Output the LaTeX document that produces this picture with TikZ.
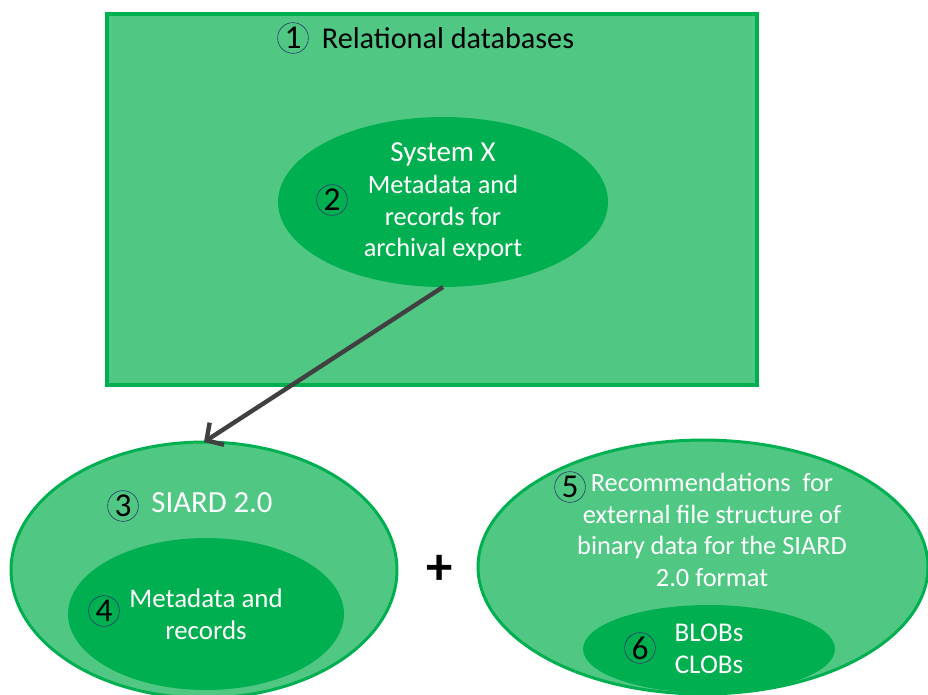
\documentclass[tikz,border=0pt]{standalone}
\usepackage{fontspec}
\setmainfont{Carlito}
\usetikzlibrary{shapes.geometric,arrows.meta}
\definecolor{lightgreen}{RGB}{80,200,132}
\definecolor{darkgreen}{RGB}{0,176,80}
\definecolor{arrowgray}{RGB}{64,64,64}
\definecolor{numblue}{RGB}{40,60,110}
\tikzset{
    outerbox/.style={draw=darkgreen,fill=lightgreen,line width=2.2pt},
    outerell/.style={ellipse,draw=darkgreen,fill=lightgreen,line width=1.7pt,inner sep=0pt,outer sep=0pt},
    innerell/.style={ellipse,fill=darkgreen,inner sep=0pt,outer sep=0pt,text=white,align=center},
    num/.style={circle,draw=numblue,line width=0.35pt,inner sep=0pt,minimum size=17.5pt,font=\fontsize{19}{19}\selectfont},
    lbl/.style={text=white,align=center}
}
\begin{document}
\begin{tikzpicture}[x=0.02cm,y=-0.02cm]
    \useasboundingbox (0,0) rectangle (928,694);
    \draw[outerbox] (107,14) rectangle (757,385);
    \node[font=\fontsize{17.2}{20}\selectfont] (reltitle) at (448,38) {Relational databases};
    \node[num] (n1) at (293,38) {1};
    \node[innerell,minimum width=6.6cm,minimum height=3.4cm,font=\fontsize{15}{18.1}\selectfont] (sysx) at (443,202) {\fontsize{16.5}{18.1}\selectfont System X\\Metadata and\\records for\\archival export};
    \node[num] (n2) at (332,200) {2};
    \node[outerell,minimum width=7.72cm,minimum height=5.12cm] (siard) at (204,570) {};
    \node[lbl,font=\fontsize{17.5}{20}\selectfont] (siardlbl) at (212,503) {SIARD 2.0};
    \node[num] (n3) at (123,506) {3};
    \node[innerell,minimum width=5.52cm,minimum height=3.04cm,font=\fontsize{15.3}{18.1}\selectfont] (records) at (206,614) {Metadata and\\records};
    \node[num] (n4) at (104,611) {4};
    \node[font=\fontsize{30}{30}\selectfont\bfseries] (plus) at (440,570) {+};
    \node[outerell,minimum width=9.0cm,minimum height=5.08cm] (recs) at (703,567) {};
    \node[lbl,font=\fontsize{15}{18.1}\selectfont] (recslbl) at (712,530) {Recommendations\ \ for\\external file structure of\\binary data for the SIARD\\2.0 format};
    \node[num] (n5) at (570,487) {5};
    \node[innerell,minimum width=5.04cm,minimum height=1.76cm,font=\fontsize{15.4}{18.1}\selectfont] (lobs) at (709,649) {BLOBs\\CLOBs};
    \node[num] (n6) at (640,648) {6};
    \draw[arrowgray,line width=2.5pt,-{Straight Barb[length=7pt,width=15pt]}] (sysx.south) -- (siard.north);
\end{tikzpicture}
\end{document}
